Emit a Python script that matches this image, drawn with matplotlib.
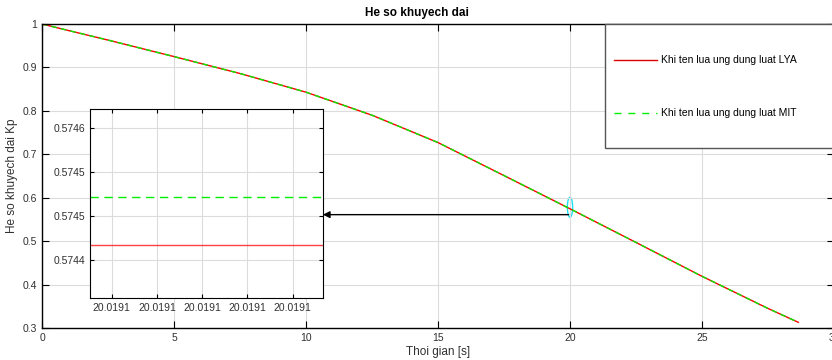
import numpy as np
import matplotlib
matplotlib.use("Agg")
import matplotlib.pyplot as plt
from matplotlib.patches import Ellipse, Rectangle
from matplotlib.lines import Line2D
from matplotlib.ticker import FormatStrFormatter

plt.rcParams['font.family'] = ['Liberation Sans', 'DejaVu Sans']

# main curve, both laws overlap
t = [0, 1, 2.5, 5, 7.5, 10, 12.5, 15, 17.5, 20, 22.5, 25, 27.5, 28.65]
kp_lya = [1.0, 0.985, 0.963, 0.925, 0.886, 0.843, 0.790, 0.727, 0.651, 0.5745, 0.497, 0.419, 0.345, 0.313]
kp_mit = list(kp_lya)

# zoomed values
zoom_lya = 0.574467
zoom_mit = 0.574522
zoom_xticks = [20.019100, 20.019101, 20.019102, 20.019103, 20.019104]
zoom_yticks = [0.57460, 0.57455, 0.57450, 0.57445]
zoom_ylabels = ['0.5746', '0.5745', '0.5745', '0.5744']

labels = ['Khi ten lua ung dung luat LYA', 'Khi ten lua ung dung luat MIT']
red = '#ff0000'
green = '#00ee00'
tick_color = '#303030'
grid_color = '#dcdcdc'

W, H = 832, 360
fig = plt.figure(figsize=(W / 100, H / 100), dpi=100)

def px_rect(x0, y0, x1, y1):
    return [x0 / W, 1 - y1 / H, (x1 - x0) / W, (y1 - y0) / H]

ax = fig.add_axes(px_rect(42, 24, 834, 328))
ax.plot(t, kp_lya, color=red, lw=1.0)
ax.plot(t, kp_mit, color=green, lw=1.0, ls=(0, (4, 3)))
ax.set_xlim(0, 30)
ax.set_ylim(0.3, 1.0)
ax.set_xticks([0, 5, 10, 15, 20, 25, 30])
ax.set_yticks([0.3, 0.4, 0.5, 0.6, 0.7, 0.8, 0.9, 1.0])
ax.set_yticklabels(['0.3', '0.4', '0.5', '0.6', '0.7', '0.8', '0.9', '1'])
ax.grid(True, color=grid_color, lw=0.8)
ax.tick_params(direction='in', top=True, right=True, length=5, labelsize=7.5,
               labelcolor=tick_color, width=0.8)
for s in ax.spines.values():
    s.set_linewidth(1.0)
ax.set_xlabel('Thoi gian [s]', fontsize=8.5, color=tick_color, labelpad=2)
ax.set_ylabel('He so khuyech dai Kp', fontsize=8.5, color=tick_color, labelpad=3)
fig.text(417 / W, 1 - 13 / H, 'He so khuyech dai', ha='center', va='center',
         fontsize=8.5, fontweight='bold')

# ellipse marking the zoomed point and arrow to the inset
ax.add_patch(Ellipse((20.0, 0.578), 0.2, 0.046, fill=False, edgecolor='#22e0f0', lw=1.0))
ax.annotate('', xy=(10.64, 0.561), xytext=(19.95, 0.561),
            arrowprops=dict(arrowstyle='-|>', color='black', lw=1.0, mutation_scale=10,
                            shrinkA=0, shrinkB=0))

# inset
axi = fig.add_axes(px_rect(90, 109, 323, 298))
axi.axhline(zoom_lya, color=red, lw=1.0, alpha=0.75)
axi.axhline(zoom_mit, color=green, lw=1.0, ls=(0, (6, 4)))
d = 1e-6
axi.set_xlim(zoom_xticks[0] - 0.48 * d, zoom_xticks[-1] + 0.67 * d)
axi.set_ylim(0.574407, 0.574622)
axi.set_xticks(zoom_xticks)
axi.xaxis.set_major_formatter(FormatStrFormatter('%.4f'))
axi.set_yticks(zoom_yticks)
axi.set_yticklabels(zoom_ylabels)
axi.grid(True, color=grid_color, lw=0.8)
axi.set_facecolor('white')
axi.tick_params(direction='in', top=True, right=True, length=3, labelsize=7.5,
                labelcolor=tick_color, width=0.8)

# legend box
fig.add_artist(Rectangle((605 / W, 1 - 148 / H), 240 / W, 124 / H, transform=fig.transFigure,
                         facecolor='white', edgecolor='#555555', lw=1.0))
fig.add_artist(Line2D([614 / W, 657 / W], [1 - 60 / H, 1 - 60 / H], transform=fig.transFigure,
                      color='#dd0000', lw=1.0))
fig.add_artist(Line2D([614 / W, 657 / W], [1 - 113 / H, 1 - 113 / H], transform=fig.transFigure,
                      color=green, lw=1.0, ls=(0, (5, 5))))
fig.text(661 / W, 1 - 60 / H, labels[0], ha='left', va='center', fontsize=7.5)
fig.text(661 / W, 1 - 113 / H, labels[1], ha='left', va='center', fontsize=7.5)

fig.savefig('out.png', dpi=100)
